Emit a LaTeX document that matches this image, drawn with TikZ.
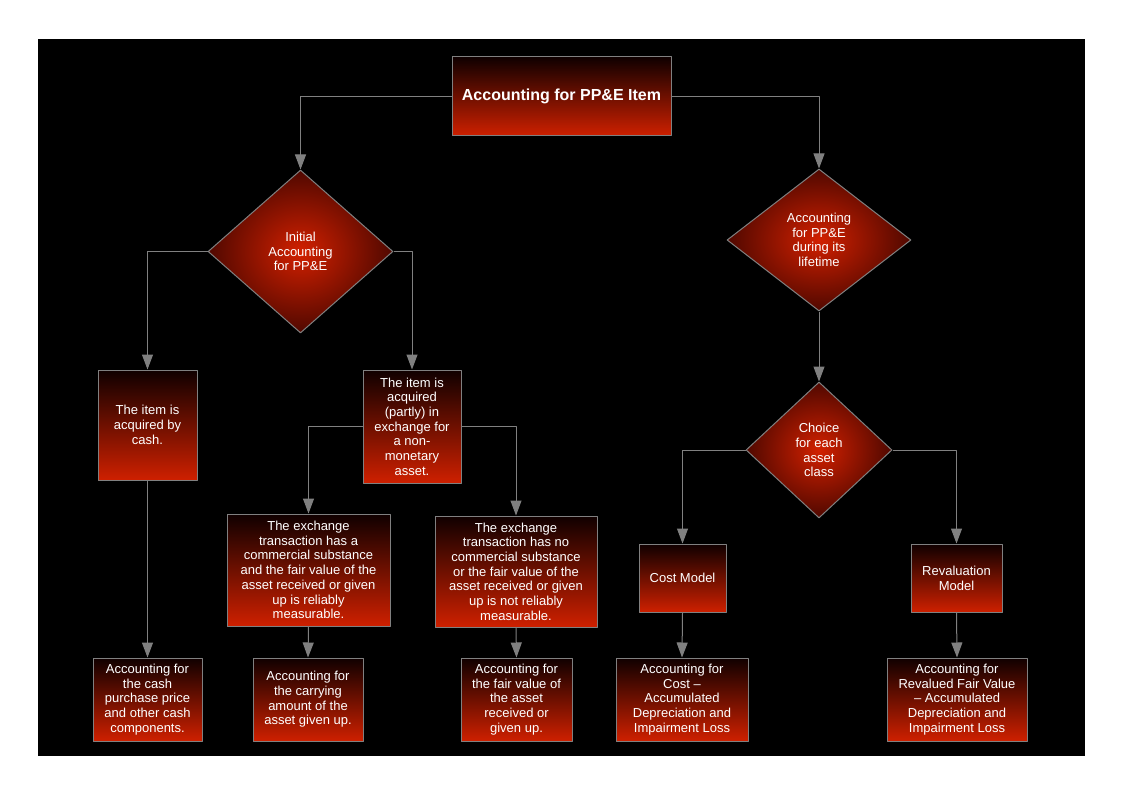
\documentclass[tikz,border=0pt]{standalone}
\usepackage{fontspec}
\setmainfont{Liberation Sans}
\usetikzlibrary{shapes.geometric,arrows.meta}
\definecolor{edge}{RGB}{128,128,128}
\definecolor{redtop}{RGB}{16,0,0}
\definecolor{redbot}{RGB}{206,32,0}
\definecolor{redmid}{RGB}{210,32,0}
\definecolor{redout}{RGB}{80,8,0}
\tikzset{
  box/.style={draw=edge,line width=1pt,top color=redtop,bottom color=redbot,text=white,align=center,inner sep=0pt},
  dia/.style={diamond,draw=edge,line width=1pt,inner color=redmid,outer color=redout,text=white,align=center,inner sep=0pt},
  conn/.style={draw=edge,line width=1pt,->}
}
\begin{document}
\begin{tikzpicture}[x=1pt,y=-1pt,>={Triangle[width=11pt,length=15pt]},line join=round,font=\fontsize{13}{14.7}\selectfont]
	\fill[white] (0,0) rectangle (1123,794);
	\fill[black] (38,39) rectangle (1085,756);
	\node[box,font=\bfseries\fontsize{16}{18}\selectfont,minimum width=219pt,minimum height=79pt] (item) at (561.5,96.5) {Accounting for PP\&E Item};
	\node[dia,minimum width=185pt,minimum height=163pt] (init) at (300.5,251.5) {Initial\\Accounting\\for PP\&E};
	\node[dia,minimum width=184pt,minimum height=142pt] (life) at (819,240) {Accounting\\for PP\&E\\during its\\lifetime};
	\node[box,minimum width=99pt,minimum height=110pt] (cash) at (147.5,425) {The item is\\acquired by\\cash.};
	\node[box,minimum width=98pt,minimum height=113pt] (exch) at (412,426.5) {The item is\\acquired\\(partly) in\\exchange for\\a non-\\monetary\\asset.};
	\node[box,minimum width=163pt,minimum height=112pt] (comm) at (308.5,570) {The exchange\\transaction has a\\commercial substance\\and the fair value of the\\asset received or given\\up is reliably\\measurable.};
	\node[box,minimum width=162pt,minimum height=111pt] (nocomm) at (516,571.5) {The exchange\\transaction has no\\commercial substance\\or the fair value of the\\asset received or given\\up is not reliably\\measurable.};
	\node[box,minimum width=109pt,minimum height=83pt] (cashacc) at (147.5,699.5) {Accounting for\\the cash\\purchase price\\and other cash\\components.};
	\node[box,minimum width=110pt,minimum height=83pt] (carry) at (308,699.5) {Accounting for\\the carrying\\amount of the\\asset given up.};
	\node[box,minimum width=111pt,minimum height=83pt] (fair) at (516.5,699.5) {Accounting for\\the fair value of\\the asset\\received or\\given up.};
	\node[dia,minimum width=146pt,minimum height=136pt] (class) at (819,450) {Choice\\for each\\asset\\class};
	\node[box,minimum width=87pt,minimum height=68pt] (cost) at (682.5,578) {Cost Model};
	\node[box,minimum width=91pt,minimum height=68pt] (reval) at (956.5,578) {Revaluation\\Model};
	\node[box,minimum width=132pt,minimum height=83pt] (costacc) at (682,699.5) {Accounting for\\Cost --\\Accumulated\\Depreciation and\\Impairment Loss};
	\node[box,minimum width=140pt,minimum height=83pt] (revacc) at (957,699.5) {Accounting for\\Revalued Fair Value\\-- Accumulated\\Depreciation and\\Impairment Loss};
	\draw[conn] (item.west) -| (init.north);
	\draw[conn] (item.east) -| (life.north);
	\draw[conn] (init.west) -| (cash.north);
	\draw[conn] (init.east) -| (exch.north);
	\draw[conn] (exch.west) -| (comm.north);
	\draw[conn] (exch.east) -| (nocomm.north);
	\draw[conn] (cash.south) -- (cashacc.north);
	\draw[conn] (comm.south) -- (carry.north);
	\draw[conn] (nocomm.south) -- (fair.north);
	\draw[conn] (life.south) -- (class.north);
	\draw[conn] (class.west) -| (cost.north);
	\draw[conn] (class.east) -| (reval.north);
	\draw[conn] (cost.south) -- (costacc.north);
	\draw[conn] (reval.south) -- (revacc.north);
\end{tikzpicture}
\end{document}
